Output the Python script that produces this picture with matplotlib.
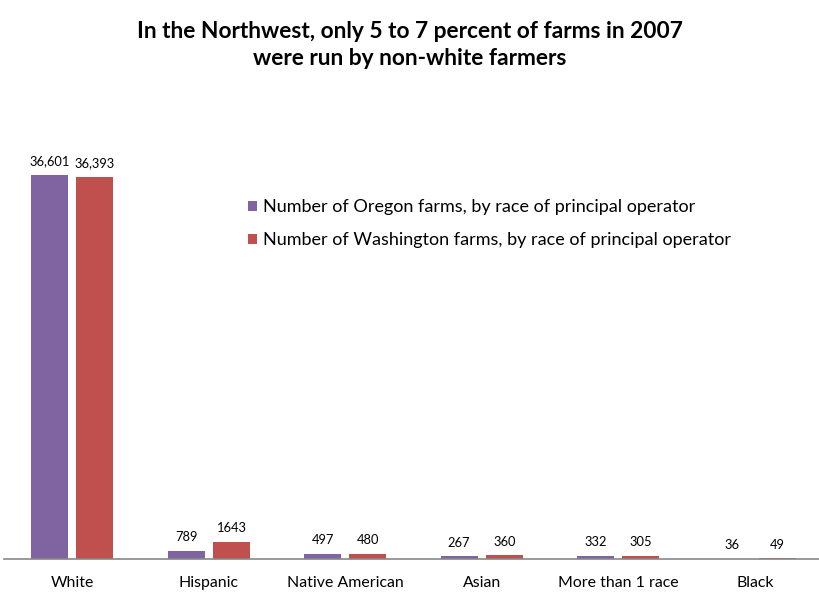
import matplotlib.pyplot as plt
import numpy as np

plt.rcParams['font.family'] = ['Lato', 'DejaVu Sans']

# Dados
categorias = ["White", "Hispanic", "Native American", "Asian", "More than 1 race", "Black"]
oregon = [36601, 789, 497, 267, 332, 36]
washington = [36393, 1643, 480, 360, 305, 49]
rotulos_oregon = ["36,601", "789", "497", "267", "332", "36"]
rotulos_washington = ["36,393", "1643", "480", "360", "305", "49"]

titulo = "In the Northwest, only 5 to 7 percent of farms in 2007\nwere run by non-white farmers"
legenda_or = "Number of Oregon farms, by race of principal operator"
legenda_wa = "Number of Washington farms, by race of principal operator"

cor_or = "#8064A2"
cor_wa = "#C0504D"

fig = plt.figure(figsize=(8.19, 5.92), dpi=100)
ax = fig.add_axes([4 / 819, 1 - 559 / 592, 1.0, 420 / 592])

x = np.arange(len(categorias))
largura = 0.27
b1 = ax.bar(x - 0.166, oregon, largura, color=cor_or, label=legenda_or)
b2 = ax.bar(x + 0.166, washington, largura, color=cor_wa, label=legenda_wa)

# Rótulos de dados
for barras, rotulos in [(b1, rotulos_oregon), (b2, rotulos_washington)]:
    for barra, rot in zip(barras, rotulos):
        ax.annotate(rot, (barra.get_x() + barra.get_width() / 2, barra.get_height()),
                    xytext=(0, 5.5), textcoords="offset points",
                    ha="center", va="bottom", fontsize=9.3, color="#000000")

ax.set_xlim(-0.5, len(categorias) - 0.5)
ax.set_ylim(0, 40000)
ax.set_xticks(x)
ax.set_xticklabels(categorias, fontsize=11.4)
ax.tick_params(axis="x", length=0, pad=12.5)
ax.set_yticks([])

for lado in ["top", "right", "left"]:
    ax.spines[lado].set_visible(False)
ax.spines["bottom"].set_color("#888888")
ax.spines["bottom"].set_linewidth(1.2)

fig.text(0.5, 1 - 45 / 592, titulo, ha="center", va="center", fontsize=16.4,
         fontweight="bold", linespacing=1.3)

ax.legend(loc="upper left", bbox_to_anchor=(237 / 819, 1 - (192 - 139) / 420),
          bbox_transform=ax.transAxes, frameon=False, fontsize=13.0,
          handlelength=0.5, handleheight=0.5, handletextpad=0.3,
          labelspacing=0.95, borderaxespad=0)

fig.savefig("out.png", dpi=100)
